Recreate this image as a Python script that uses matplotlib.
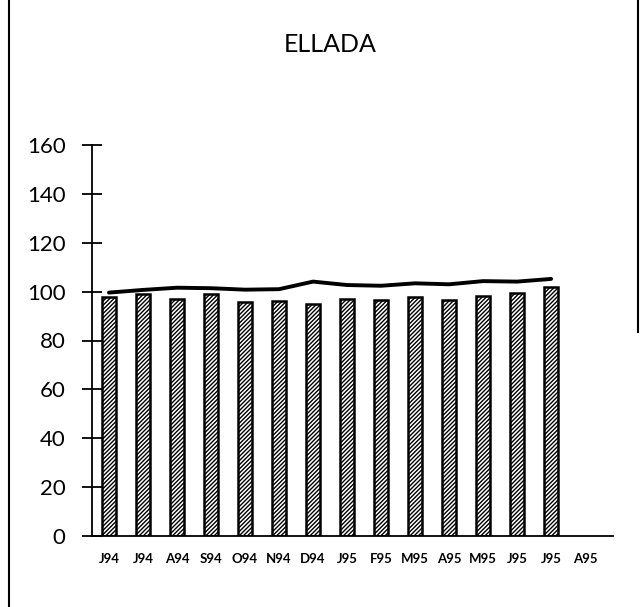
import numpy as np
import matplotlib
matplotlib.use("Agg")
import matplotlib.pyplot as plt
from matplotlib.lines import Line2D

# data
months = ["J94", "J94", "A94", "S94", "O94", "N94", "D94", "J95",
          "F95", "M95", "A95", "M95", "J95", "J95", "A95"]
bars = [97.6, 98.9, 97.0, 98.9, 95.9, 96.2, 95.0, 97.0,
        96.7, 97.7, 96.6, 98.4, 99.3, 101.9]
trend = [99.6, 100.7, 101.6, 101.4, 100.8, 101.0, 104.1, 102.7,
         102.4, 103.4, 103.0, 104.3, 104.1, 105.2]
yticks = [0, 20, 40, 60, 80, 100, 120, 140, 160]

plt.rcParams['font.family'] = ['Lato', 'DejaVu Sans']
plt.rcParams['hatch.linewidth'] = 1.0

fig = plt.figure(figsize=(6.4, 6.07), dpi=100)
ax = fig.add_axes([92/640, 1-536/607, (613-92)/640, (536-145)/607])

x = np.arange(len(bars))
ax.bar(x, bars, width=0.42, color='white', edgecolor='black',
       linewidth=1.8, hatch='////////')
ax.plot(x, trend, color='black', linewidth=2.8, solid_capstyle='round')

ax.set_xlim(-0.5, 14.82)
ax.set_ylim(0, 160)
ax.set_xticks(np.arange(len(months)))
ax.set_xticklabels(months, fontsize=9.5, fontweight='bold')
ax.tick_params(axis='x', length=0, pad=12)
ax.set_yticks(yticks)
ax.tick_params(axis='y', direction='inout', length=14, width=1.3,
               labelsize=16, pad=12)
ax.spines['top'].set_visible(False)
ax.spines['right'].set_visible(False)
ax.spines['left'].set_linewidth(1.3)
ax.spines['bottom'].set_linewidth(1.3)

fig.text(330/640, 1-45/607, "ELLADA", ha='center', va='center', fontsize=18)

# scanned page borders
fig.add_artist(Line2D([9/640, 9/640], [0, 1], color='black', linewidth=1.5))
fig.add_artist(Line2D([638/640, 638/640], [1-332/607, 1], color='black', linewidth=1.5))

fig.savefig("out.png", dpi=100)
